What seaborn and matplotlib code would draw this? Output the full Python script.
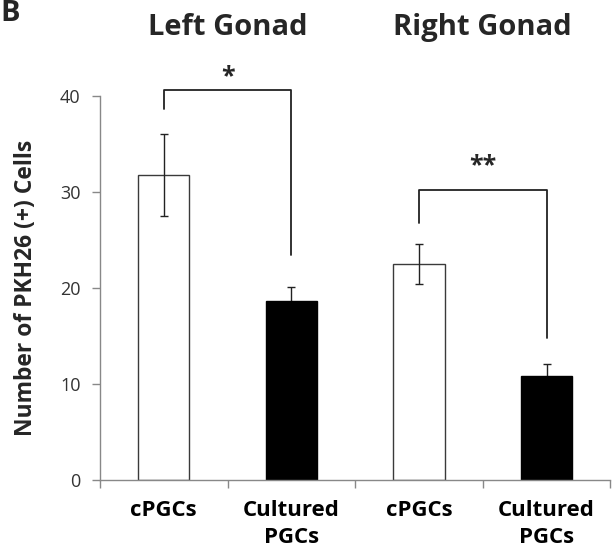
import matplotlib
matplotlib.use("Agg")
import matplotlib.pyplot as plt
import seaborn as sns
import pandas as pd
import numpy as np

# Data
groups = ["Left Gonad", "Left Gonad", "Right Gonad", "Right Gonad"]
cell_types = ["cPGCs", "Cultured\nPGCs", "cPGCs", "Cultured\nPGCs"]
means = [31.8, 18.7, 22.5, 10.8]
errors = [4.3, 1.4, 2.1, 1.3]
bar_colors = ["white", "black", "white", "black"]
y_ticks = [0, 10, 20, 30, 40]
sig_labels = ["*", "**"]

sns.set_theme(style="white")
plt.rcParams["font.family"] = ["Open Sans", "DejaVu Sans"]

keys = [f"{g} {c}" for g, c in zip(groups, cell_types)]
df = pd.DataFrame({"key": keys, "value": means, "group": groups})

fig = plt.figure(figsize=(6.12, 5.57), dpi=100)
ax = fig.add_axes([0.1634, 0.138, 0.834, 0.6894])

sns.barplot(data=df, x="key", y="value", order=keys, hue="key",
            palette=dict(zip(keys, bar_colors)), legend=False,
            width=0.4, edgecolor="#3a3a3a", linewidth=1.0, ax=ax,
            errorbar=None, zorder=2)
for p, c in zip(ax.patches, bar_colors):
    if c == "black":
        p.set_edgecolor("black")

# Error bars: in front of open bars, behind filled bars
xs = np.arange(len(keys))
for x, m, e, c in zip(xs, means, errors, bar_colors):
    ax.errorbar([x], [m], yerr=[e], fmt="none", ecolor="#222222",
                elinewidth=1.0, capsize=3, capthick=1.0,
                zorder=3 if c == "white" else 1)

ax.set_xlim(-0.5, len(keys) - 0.5)
ax.set_ylim(0, 40)
ax.set_yticks(y_ticks)
ax.set_yticklabels([str(t) for t in y_ticks], fontsize=13, color="#333333")
ax.set_xticks(xs)
ax.set_xticklabels(cell_types, fontsize=16, fontweight="bold", color="black",
                   linespacing=1.4)
ax.set_xticks(np.arange(-0.5, len(keys)), minor=True)
ax.tick_params(axis="x", which="major", length=0, pad=14)
ax.tick_params(axis="x", which="minor", length=6, width=1, color="#888888",
               direction="out", bottom=True)
ax.tick_params(axis="y", length=6, width=1, color="#888888", direction="out",
               left=True, pad=8)
ax.set_xlabel("")
ax.set_ylabel("Number of PKH26 (+) Cells", fontsize=16.5, fontweight="bold",
              labelpad=16)

for s in ["top", "right"]:
    ax.spines[s].set_visible(False)
for s in ["left", "bottom"]:
    ax.spines[s].set_color("#888888")
    ax.spines[s].set_linewidth(1.0)

# Significance brackets
def bracket(x1, x2, top, left_end, right_end, label, star_y):
    ax.plot([x1, x1, x2, x2], [left_end, top, top, right_end],
            color="#222222", lw=1.3, clip_on=False, zorder=4)
    ax.text((x1 + x2) / 2, star_y, label, ha="center", va="center",
            fontsize=18, fontweight="bold", clip_on=False)

bracket(0, 1, 40.6, 38.7, 23.5, sig_labels[0], 42.0)
bracket(2, 3, 30.2, 26.8, 14.8, sig_labels[1], 32.8)

# Group titles centred over each pair of bars
for i, g in enumerate(["Left Gonad", "Right Gonad"]):
    ax.text(2 * i + 0.5, 47.1, g, ha="center", va="center", fontsize=21,
            fontweight="bold", clip_on=False)

fig.text(0.0, 0.975, "B", ha="left", va="center", fontsize=21,
         fontweight="bold")

fig.savefig("out.png", dpi=100)
